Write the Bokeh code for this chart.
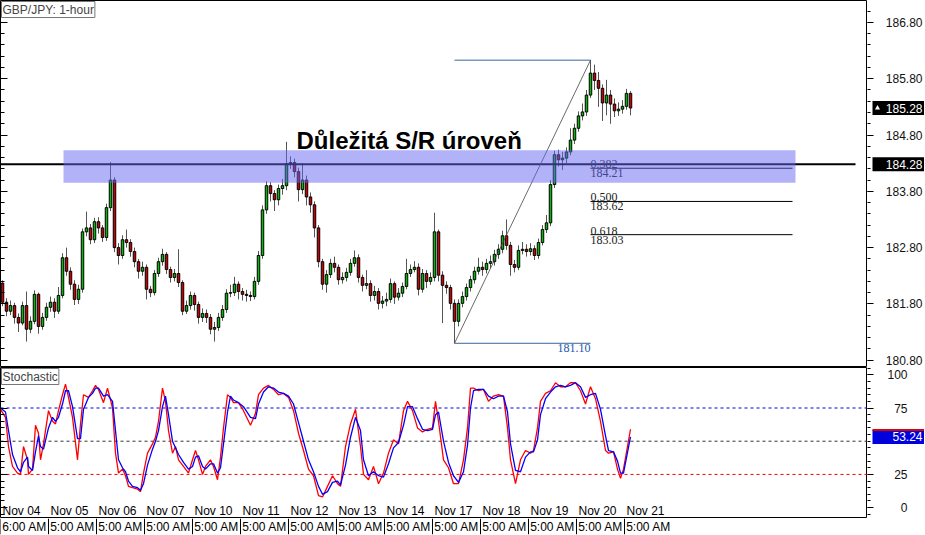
from bokeh.plotting import figure
from bokeh.layouts import column, row
from bokeh.models import (Range1d, FixedTicker, Label, Span, BoxAnnotation, LinearAxis,
                          PrintfTickFormatter, ColumnDataSource)
from bokeh.core.properties import value
from bokeh.embed import file_html
from bokeh.resources import INLINE

# ---------------- data (2-hour candles, GBP/JPY) ----------------
first_open = 182.17
closes = [181.83, 181.67, 181.77, 181.56, 181.46, 181.77, 181.35, 181.49, 181.97, 181.40,
          181.56, 181.74, 181.83, 181.67, 181.95, 182.62, 182.38, 182.15, 181.88, 182.06,
          183.08, 183.15, 182.94, 183.26, 183.15, 182.98, 183.51, 184.00, 182.80, 182.66,
          182.94, 182.89, 182.73, 182.55, 182.38, 182.45, 182.06, 182.00, 182.34, 182.55,
          182.68, 182.41, 182.27, 182.34, 182.18, 181.67, 181.77, 181.95, 181.79, 181.56,
          181.63, 181.56, 181.35, 181.38, 181.56, 181.70, 181.99, 182.00, 182.15, 182.02,
          181.97, 181.95, 181.93, 182.20, 182.66, 183.47, 183.90, 183.76, 183.65, 183.85,
          183.90, 184.29, 184.31, 184.15, 183.83, 184.00, 183.70, 183.56, 183.15, 182.55,
          182.15, 182.32, 182.52, 182.45, 182.23, 182.27, 182.36, 182.52, 182.62, 182.27,
          182.13, 182.16, 181.95, 182.02, 181.81, 181.85, 181.88, 182.16, 181.92, 181.99,
          182.11, 182.34, 182.41, 182.45, 182.06, 182.34, 182.20, 182.27, 183.08, 182.31,
          182.13, 182.09, 181.81, 181.49, 181.81, 181.93, 182.09, 182.23, 182.38, 182.45,
          182.41, 182.52, 182.55, 182.68, 182.77, 183.01, 182.84, 182.50, 182.45, 182.75,
          182.77, 182.73, 182.78, 182.66, 182.89, 183.12, 183.24, 183.92, 184.45, 184.36,
          184.39, 184.50, 184.71, 184.92, 185.14, 185.21, 185.51, 185.90, 185.77, 185.63,
          185.37, 185.51, 185.35, 185.23, 185.26, 185.31, 185.54, 185.28]
highs = [182.22, 181.90, 181.86, 181.82, 181.63, 181.84, 182.02, 181.58, 182.04, 182.00,
         181.64, 181.82, 181.93, 181.90, 182.10, 182.70, 182.80, 182.45, 182.22, 182.14,
         183.14, 183.44, 183.22, 183.33, 183.34, 183.20, 183.58, 184.32, 184.05, 182.88,
         183.02, 183.12, 182.95, 182.80, 182.60, 182.55, 182.50, 182.12, 182.40, 182.62,
         182.78, 182.72, 182.46, 182.42, 182.77, 182.22, 181.86, 182.02, 182.00, 181.84,
         181.72, 181.70, 181.62, 181.48, 181.64, 181.78, 182.06, 182.14, 182.28, 182.20,
         182.08, 182.05, 182.02, 182.28, 182.74, 183.55, 183.98, 183.96, 183.82, 183.92,
         184.02, 184.68, 184.42, 184.38, 184.22, 184.30, 184.08, 183.78, 183.62, 183.20,
         182.60, 182.40, 182.60, 182.64, 182.50, 182.36, 182.44, 182.60, 182.75, 182.68,
         182.32, 182.40, 182.22, 182.12, 182.08, 181.94, 182.00, 182.25, 182.20, 182.08,
         182.18, 182.60, 182.50, 182.56, 182.52, 182.42, 182.40, 182.36, 183.42, 183.12,
         182.38, 182.20, 182.14, 181.88, 181.88, 182.02, 182.16, 182.30, 182.46, 182.62,
         182.55, 182.60, 182.66, 182.76, 182.86, 183.10, 183.30, 182.90, 182.58, 182.84,
         182.90, 182.86, 182.88, 182.84, 182.96, 183.20, 183.38, 184.00, 184.52, 184.54,
         184.50, 184.58, 184.92, 185.00, 185.22, 185.36, 185.60, 186.13, 186.05, 185.92,
         185.70, 185.78, 185.60, 185.45, 185.38, 185.42, 185.62, 185.58]
lows = [181.76, 181.58, 181.60, 181.45, 181.30, 181.42, 181.13, 181.28, 181.44, 181.27,
        181.34, 181.50, 181.66, 181.55, 181.62, 181.90, 182.30, 182.05, 181.78, 181.80,
        182.00, 183.00, 182.86, 182.88, 183.05, 182.90, 182.92, 183.45, 182.72, 182.50,
        182.60, 182.80, 182.64, 182.45, 182.25, 182.30, 181.88, 181.92, 181.95, 182.28,
        182.48, 182.33, 182.18, 182.20, 182.10, 181.60, 181.62, 181.70, 181.68, 181.45,
        181.48, 181.46, 181.26, 181.13, 181.32, 181.50, 181.64, 181.92, 181.94, 181.88,
        181.86, 181.84, 181.85, 181.88, 182.14, 182.60, 183.40, 183.62, 183.45, 183.55,
        183.74, 183.82, 184.20, 184.05, 183.62, 183.75, 183.55, 183.42, 182.98, 182.45,
        182.05, 182.00, 182.26, 182.36, 182.14, 182.16, 182.20, 182.30, 182.46, 182.18,
        182.02, 182.06, 181.84, 181.86, 181.70, 181.72, 181.76, 181.82, 181.80, 181.86,
        181.92, 182.06, 182.28, 182.36, 181.95, 182.00, 182.08, 182.14, 182.20, 182.20,
        181.46, 181.98, 181.70, 181.10, 181.40, 181.74, 181.86, 182.02, 182.16, 182.32,
        182.30, 182.34, 182.44, 182.48, 182.60, 182.70, 182.76, 182.30, 182.36, 182.40,
        182.68, 182.64, 182.66, 182.58, 182.60, 182.84, 183.06, 183.18, 183.86, 184.24,
        184.18, 184.30, 184.44, 184.64, 184.86, 185.06, 185.14, 185.46, 185.60, 185.30,
        185.05, 185.15, 185.00, 185.12, 185.14, 185.18, 185.25, 185.15]
opens = [first_open] + closes[:-1]
bars = list(range(len(closes)))

days = ["Nov 04", "Nov 05", "Nov 06", "Nov 07", "Nov 10", "Nov 11", "Nov 12",
        "Nov 13", "Nov 14", "Nov 17", "Nov 18", "Nov 19", "Nov 20", "Nov 21"]
day_start = [0, 12, 24, 36, 48, 60, 72, 84, 96, 108, 120, 132, 144, 156]
hour_labels = ["6:00 AM"] + ["5:00 AM"] * 13

price_ticks = [180.8, 181.8, 182.8, 183.8, 184.8, 185.8, 186.8]
stoch_ticks = [0, 25, 75, 100]
stoch_levels = [75, 50, 25]

sr_level = 184.28
zone_low, zone_high = 183.95, 184.53
title_text = "Důležitá S/R úroveň"
fib_ratios = ["0.382", "0.500", "0.618"]
fib_prices = [184.21, 183.62, 183.03]

stoch_pos = [-0.5, 0.75, 1.5, 2.5, 3.75, 4.5, 5.25, 6.25, 6.5, 7.5,
             8.25, 9, 9.5, 10.25, 11.5, 12.5, 13.25, 14, 15, 15.75,
             16.5, 17.5, 18.75, 19.5, 20.25, 21.5, 22.5, 23.25, 24, 25.25,
             26.25, 27.5, 28.25, 29, 30, 30.75, 31.5, 32.5, 33.75, 34.5,
             35.25, 36.25, 37.5, 38.25, 39, 40, 40.75, 41.5, 42.5, 43.25,
             44, 45.25, 46.5, 47.5, 48.25, 49, 50, 50.75, 52, 52.75,
             53.75, 54.5, 55.25, 56.25, 57, 57.75, 59, 60.25, 62, 63.25,
             64, 65.25, 66.5, 67.75, 69, 70.25, 71.5, 72.75, 74, 75.25,
             76.5, 77.75, 79, 80, 81.25, 82.5, 83.75, 84.5, 85.75, 87,
             88.25, 89.5, 90.25, 91.5, 92.75, 94, 95.25, 96.5, 97.75, 99,
             100.25, 101.25, 102.5, 103.75, 105, 106.25, 107.5, 108.25, 109, 110.25,
             111.5, 112.75, 114, 115.25, 116.25, 117, 117.75, 119, 120.25, 121.5,
             122.75, 124, 125.25, 126.25, 127, 128.25, 129.5, 130.75, 132, 132.75,
             133.75, 134.5, 135.75, 137, 138.25, 139.5, 140.75, 142, 143.25, 144.5,
             145.75, 147, 148.25, 149.5, 150.75, 151.5, 152.75, 153.75, 154.5, 155.25,
             157]
stoch_k = [74, 68, 46, 31, 26, 25, 46, 36, 25, 29,
           62, 56, 36, 48, 73, 65, 63, 73, 85, 93,
           83, 68, 36, 63, 85, 83, 88, 92, 89, 79,
           90, 75, 41, 26, 29, 24, 16, 15, 14, 12,
           26, 41, 48, 53, 65, 90, 80, 58, 41, 46,
           36, 31, 26, 36, 43, 36, 25, 31, 36, 31,
           21, 38, 60, 85, 83, 79, 79, 73, 62, 71,
           85, 90, 92, 89, 85, 86, 83, 73, 56, 43,
           29, 24, 9, 8, 16, 24, 18, 16, 46, 63,
           74, 46, 25, 21, 31, 18, 26, 41, 51, 48,
           73, 80, 73, 60, 57, 59, 60, 80, 65, 36,
           30, 18, 18, 36, 60, 90, 90, 88, 89, 80,
           84, 85, 84, 60, 36, 18, 36, 43, 41, 43,
           60, 80, 86, 88, 94, 91, 91, 94, 94, 88,
           78, 91, 82, 65, 43, 41, 42, 29, 22, 29,
           59]
stoch_d = [75, 72, 58, 40, 30, 27, 34, 38, 31, 28,
           42, 54, 46, 44, 60, 68, 65, 68, 78, 88,
           88, 76, 52, 52, 74, 83, 86, 90, 90, 84,
           85, 80, 58, 36, 30, 27, 20, 16, 15, 13,
           18, 32, 44, 50, 58, 76, 84, 70, 50, 45,
           40, 34, 29, 31, 38, 39, 31, 29, 33, 33,
           26, 30, 48, 72, 84, 81, 79, 76, 68, 67,
           78, 87, 91, 90, 87, 86, 84, 78, 64, 50,
           36, 27, 16, 10, 12, 19, 20, 17, 32, 53,
           68, 58, 36, 24, 27, 24, 23, 33, 45, 49,
           62, 76, 76, 67, 59, 58, 59, 70, 72, 50,
           34, 24, 19, 27, 47, 75, 88, 89, 89, 84,
           82, 84, 84, 72, 48, 28, 27, 38, 42, 42,
           51, 70, 82, 87, 91, 92, 91, 92, 94, 91,
           83, 85, 86, 74, 54, 43, 42, 35, 26, 26,
           53.24]

# ---------------- styling ----------------
FONT = "Liberation Sans"
FW = 867          # chart frame width
RW = 57           # right scale width
MAIN_H = 367
STO_H = 151
BOT_H = 16
GREEN = "#00bb00"
RED = "#cc0000"
X_END = 216.25
xr = Range1d(-0.5, X_END)
pyr = Range1d(180.67, 187.19)
syr = Range1d(-8.2, 105.5)


def bare_fig(**kw):
    f = figure(output_backend="svg", toolbar_location=None, min_border_left=0,
               min_border_right=0, min_border_top=0, min_border_bottom=0, **kw)
    f.grid.visible = False
    return f


def edge_ticks(fig, minor, length):
    ax = LinearAxis(ticker=FixedTicker(ticks=[], minor_ticks=minor), major_label_standoff=0,
                    major_tick_in=0, major_tick_out=0, minor_tick_in=length, minor_tick_out=0,
                    minor_tick_line_color="black", axis_line_color=None)
    fig.add_layout(ax, "left")


price_minor = [round(180.6 + 0.2 * k, 2) for k in range(34)]
stoch_minor = list(range(-5, 106, 5))

# ---------------- main price panel ----------------
p = bare_fig(frame_width=FW, frame_height=MAIN_H, x_range=xr, y_range=pyr,
             x_axis_location=None, y_axis_location=None, outline_line_color="black")
edge_ticks(p, price_minor, 4)
edge_ticks(p, price_ticks, 7)

src = ColumnDataSource(dict(
    x=bars, h=highs, l=lows,
    top=[max(o, c) for o, c in zip(opens, closes)],
    bottom=[min(o, c) for o, c in zip(opens, closes)],
    color=[GREEN if c >= o else RED for o, c in zip(opens, closes)],
))
p.segment(x0="x", y0="l", x1="x", y1="h", source=src, line_color="#555555", line_width=1)
p.vbar(x="x", width=0.62, top="top", bottom="bottom", source=src,
       fill_color="color", line_color="black", line_width=1)

p.segment(x0=[-0.5], y0=[sr_level], x1=[213.25], y1=[sr_level], line_color="black", line_width=2)

swing_low = min(lows)
swing_high = max(highs)
lo_bar = lows.index(swing_low)
hi_bar = highs.index(swing_high)
p.segment(x0=[lo_bar, lo_bar], y0=[swing_low, swing_high], x1=[hi_bar, hi_bar],
          y1=[swing_low, swing_high], line_color="#336699", line_width=1)
p.segment(x0=[lo_bar], y0=[swing_low], x1=[hi_bar], y1=[swing_high],
          line_color="#444444", line_width=0.8)
p.segment(x0=[hi_bar] * 3, y0=fib_prices, x1=[197.5] * 3, y1=fib_prices,
          line_color="black", line_width=1)
p.text(x=[hi_bar] * 3, y=fib_prices, text=fib_ratios, text_baseline="bottom",
       text_align="left", text_font=value("Liberation Serif"),
       text_font_size="12px", text_color="#222222")
p.text(x=[hi_bar] * 3, y=fib_prices, text=[f"{v:.2f}" for v in fib_prices],
       text_baseline="top", text_align="left", y_offset=1,
       text_font=value("Liberation Serif"), text_font_size="12px", text_color="#222222")
p.text(x=[hi_bar], y=[swing_low], text=[f"{swing_low:.2f}"], text_baseline="top",
       text_align="right", y_offset=1, text_font=value("Liberation Serif"),
       text_font_size="12px", text_color="#2255aa")

p.add_layout(BoxAnnotation(left=15.25, right=198.25, bottom=zone_low, top=zone_high,
                           fill_color="#6565f1", fill_alpha=0.5, line_color=None))

p.add_layout(Label(x=73.5, y=184.71, text=title_text, text_font=FONT, text_font_size="24px",
                   text_font_style="bold", text_color="black", text_baseline="alphabetic"))
p.add_layout(Label(x=-0.5, y=pyr.end, text="GBP/JPY: 1-hour", text_font=FONT,
                   text_font_size="12px", text_baseline="top", x_offset=1, y_offset=-1,
                   background_fill_color="white", border_line_color="#777777", padding=1))

# ---------------- price scale (right) ----------------
pr = bare_fig(frame_width=RW, frame_height=MAIN_H, x_range=Range1d(0, RW), y_range=pyr,
              x_axis_location=None, y_axis_location="left", outline_line_color=None)
ya = pr.yaxis[0]
ya.ticker = FixedTicker(ticks=price_ticks, minor_ticks=price_minor)
ya.formatter = PrintfTickFormatter(format="%.2f")
ya.major_tick_in = 6
ya.major_tick_out = 0
ya.minor_tick_in = 3
ya.minor_tick_out = 0
ya.axis_line_color = None
ya.major_label_standoff = -55
ya.major_label_text_font = FONT
ya.major_label_text_font_size = "12px"
ya.major_label_text_color = "#111111"

px_p = (pyr.end - pyr.start) / MAIN_H
last_price = closes[-1]
pr.quad(left=[5, 5], right=[RW, RW],
        top=[last_price + 7 * px_p, sr_level + 7 * px_p],
        bottom=[last_price - 7 * px_p, sr_level - 7 * px_p],
        fill_color="black", line_color=None)
pr.text(x=[55, 55], y=[last_price, sr_level],
        text=[f"{last_price:.2f}", f"{sr_level:.2f}"], text_align="right",
        text_baseline="middle", text_font=value(FONT), text_font_size="12px",
        text_color="white")
pr.scatter(x=[10], y=[last_price], marker="triangle", size=5, fill_color="white",
           line_color=None)

# ---------------- stochastic panel ----------------
s = bare_fig(frame_width=FW, frame_height=STO_H, x_range=xr, y_range=syr,
             y_axis_location=None, x_axis_location=None, outline_line_color="black")
edge_ticks(s, stoch_minor, 4)
edge_ticks(s, [0, 25, 50, 75, 100], 7)

level_colors = ["#0000dd", "#333333", "#ee0000"]
for lv, lc in zip(stoch_levels, level_colors):
    s.add_layout(Span(location=lv, dimension="width", line_color=lc, line_dash="3 3",
                      line_width=1, level="underlay"))

s.line(stoch_pos, stoch_k, line_color="#ff0000", line_width=1.3)
s.line(stoch_pos, stoch_d, line_color="#0000ff", line_width=1.3)

s.text(x=day_start, y=[-8.0] * len(day_start), text=days, text_align="left",
       text_baseline="bottom", text_font=value(FONT), text_font_size="12px",
       text_color="black")

s.add_layout(Label(x=-0.5, y=syr.end, text="Stochastic", text_font=FONT, text_font_size="12px",
                   text_baseline="top", x_offset=1, y_offset=-1,
                   background_fill_color="white", border_line_color="#777777", padding=1))

# ---------------- stochastic scale (right) ----------------
sr = bare_fig(frame_width=RW, frame_height=STO_H, x_range=Range1d(0, RW), y_range=syr,
              x_axis_location=None, y_axis_location="left", outline_line_color=None)
sa = sr.yaxis[0]
sa.ticker = FixedTicker(ticks=stoch_ticks, minor_ticks=stoch_minor)
sa.major_tick_in = 6
sa.major_tick_out = 0
sa.minor_tick_in = 3
sa.minor_tick_out = 0
sa.axis_line_color = None
sa.major_label_standoff = -40
sa.major_label_text_font = FONT
sa.major_label_text_font_size = "12px"
sa.major_label_text_color = "#111111"

px_s = (syr.end - syr.start) / STO_H
last_d = stoch_d[-1]
sr.quad(left=[5], right=[RW], top=[last_d + 7 * px_s], bottom=[last_d - 7 * px_s],
        fill_color="#0000dd", line_color=None)
sr.segment(x0=[5], y0=[last_d + 7 * px_s], x1=[RW], y1=[last_d + 7 * px_s],
           line_color="#dd0000", line_width=2)
sr.text(x=[55], y=[last_d], text=[f"{last_d:.2f}"], text_align="right",
        text_baseline="middle", text_font=value(FONT), text_font_size="12px",
        text_color="white")

# ---------------- time scale (bottom) ----------------
b = bare_fig(frame_width=FW, frame_height=BOT_H, x_range=xr, y_range=Range1d(0, 1),
             x_axis_location="below", y_axis_location=None, outline_line_color=None)
b.segment(x0=[d - 0.5 for d in day_start], y0=[0] * len(day_start),
          x1=[d - 0.5 for d in day_start], y1=[1] * len(day_start),
          line_color="black", line_width=1)
xa = b.xaxis[0]
label_pos = [d + 5.5 for d in day_start]
xa.ticker = FixedTicker(ticks=label_pos, minor_ticks=[])
xa.major_label_overrides = {lp: hl for lp, hl in zip(label_pos, hour_labels)}
xa.major_tick_out = 0
xa.major_tick_in = 0
xa.minor_tick_out = 0
xa.minor_tick_in = 0
xa.major_label_standoff = -15
xa.major_label_text_font = FONT
xa.major_label_text_font_size = "12px"
xa.major_label_text_color = "black"
xa.axis_line_color = None

layout = column(row(p, pr, spacing=0), row(s, sr, spacing=0), b, spacing=0)
open("out.html", "w").write(file_html(layout, INLINE))
